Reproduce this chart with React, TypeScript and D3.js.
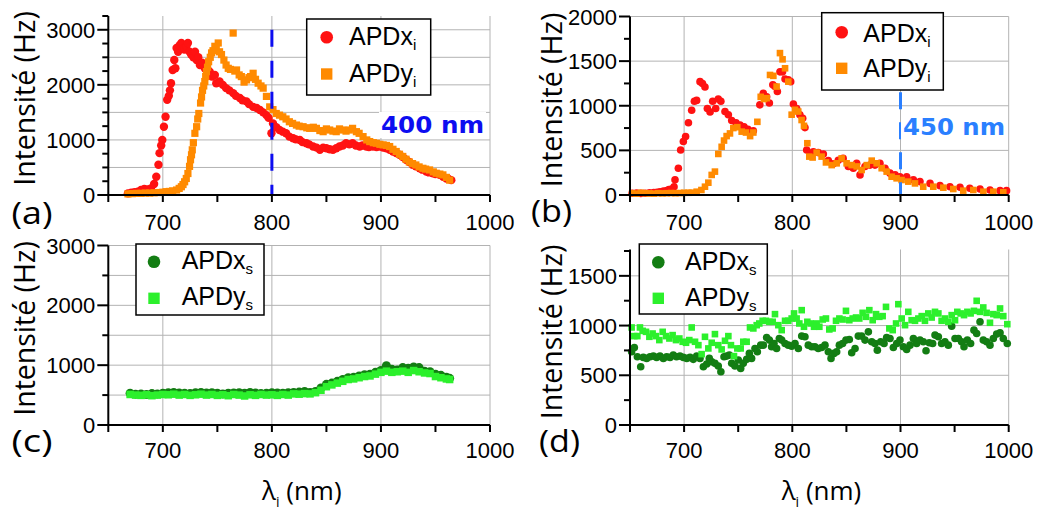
import React from "react";
import * as d3 from "d3";

type Pt = [number, number];

// ---------- tick labels ----------
const xTickValues = [650, 700, 750, 800, 850, 900, 950, 1000];
const xTickLabels = [700, 800, 900, 1000];
const xGridValues = [700, 800, 900, 1000];

// ---------- data: panel (a) ----------
const aXi: Pt[] = [[668,30],[671,40],[674,50],[677,60],[680,90],[683,110],[686,100],[689,120],[692,200],[694,330],[696,550],[697,760],[698.5,900],[699.5,1000],[701,1240],[702.5,1420],[704,1730],[705.5,1800],[706.5,1900],[707.5,2030],[709,2270],[710.5,2450],[711.5,2300],[712.6,2670],[714,2600],[715.5,2720],[717,2760],[718.5,2650],[720,2640],[721.5,2700],[723,2760],[724.5,2600],[726,2550],[728,2500],[729.5,2600],[731,2450],[732.5,2500],[734,2360],[736,2400],[738.5,2300],[741,2280],[743,2240],[745,2150],[747.7,2180],[749,2030],[752,2060],[755,2000],[758,1940],[761,1900],[764.5,1850],[767,1800],[770.6,1760],[773,1720],[776.7,1700],[779,1650],[782.8,1600],[786,1580],[789,1545],[792,1500],[795,1450],[797,1400],[799.6,1120],[801,1300],[804,1230],[807,1180],[810,1150],[813,1120],[816,1060],[819.5,1030],[822,1010],[825.6,1000],[828,960],[831.7,940],[834,920],[837.8,880],[841,860],[844,820],[847,860],[850,850],[853,830],[856,820],[859,850],[862,880],[865,900],[868,940],[871,920],[874,940],[877,900],[880.5,880],[883,900],[886.6,880],[889,870],[892.7,880],[896,870],[898.8,880],[902,860],[905,850],[908,820],[911,790],[914,760],[917,730],[920,690],[923,640],[926,600],[929,550],[932,520],[935.5,485],[938,460],[941.6,425],[944,410],[947.7,395],[950,380],[953.8,365],[957,330],[960,300],[962,290],[964.5,270]];
const aYi: Pt[] = [[668,20],[672,25],[676,30],[680,30],[684,35],[688,35],[692,40],[696,45],[700,50],[703,60],[706,65],[709,75],[712.6,90],[715,120],[717,150],[718.5,190],[720,240],[721.5,300],[723,390],[724.5,520],[725.4,640],[726.3,730],[727,820],[728,950],[729.4,1120],[731,1240],[732,1380],[733,1480],[734.6,1670],[735.5,1780],[736.4,1900],[737.5,1980],[738.5,2060],[739.3,2150],[740,2240],[741,2320],[742,2420],[743.5,2500],[744.7,2580],[746,2620],[747.7,2700],[749,2680],[750.8,2760],[752,2600],[753.8,2550],[756,2450],[758,2360],[760,2300],[762,2280],[764.5,2940],[766,2250],[767.6,2270],[770,2180],[772,2150],[774.5,2050],[776.7,2090],[779,2130],[780.5,2150],[782.8,2210],[785,2100],[787.4,2030],[790,1980],[792,1940],[795,1790],[798,1600],[801,1550],[804,1480],[807,1450],[810,1420],[813,1380],[816,1330],[819,1300],[822.5,1270],[825,1250],[828.6,1240],[832,1220],[834.7,1210],[838,1230],[840.8,1210],[844,1170],[847,1150],[850,1200],[853,1180],[856,1160],[859,1150],[862,1200],[865,1180],[868,1160],[871,1180],[874,1210],[877.5,1150],[880,1120],[883.6,1060],[887,1000],[889.7,970],[893,950],[895.8,940],[899,920],[902,910],[905,900],[908,880],[911,830],[914,790],[917,740],[920,700],[923,650],[926,600],[929,570],[932,545],[935,510],[938.5,485],[941,470],[944.6,455],[948,420],[950.7,395],[954,380],[956.8,365],[960,320],[963,270]];

// ---------- data: panel (b) ----------
const bXi: Pt[] = [[652,20],[656,22],[660,18],[664,20],[668,25],[672,28],[675,30],[677.7,37],[681,45],[684,50],[686,60],[688.5,67],[690.7,93],[691.6,170],[694.7,300],[696.8,505],[699.3,600],[701.4,655],[704,810],[707,950],[709.5,1050],[711.6,1060],[714.7,1270],[717,1250],[719.3,1210],[721.5,970],[724,930],[726.4,1050],[729.2,970],[731.6,1075],[734,1050],[737.8,935],[740.9,900],[744,835],[748,810],[751.7,785],[755.4,765],[759,735],[764,720],[770,1010],[773.2,1140],[776.3,1100],[778.8,1030],[782,1235],[784,1215],[786.2,1160],[788.6,1380],[791,1380],[793.3,1300],[796.3,1290],[798.5,1270],[801,1020],[804,970],[807,900],[809.6,860],[811.7,755],[813.3,505],[816.4,467],[819.5,485],[824,475],[828.7,460],[833.3,385],[837.9,350],[842.5,390],[847,410],[851.8,320],[856.4,300],[859.5,355],[862.6,225],[867.2,320],[871.8,335],[876.4,335],[881,355],[885.7,300],[890.3,245],[895,225],[899.5,205],[905.7,205],[911.9,170],[918,150],[927.3,130],[936.5,105],[945.7,93],[955,86],[964,75],[973.5,67],[982.7,56],[992,49],[998,49]];
const bYi: Pt[] = [[652,20],[656,15],[660,25],[664,20],[668,18],[672,15],[676,20],[680,18],[684,20],[688,22],[692,20],[696,22],[700,25],[704,25],[707,26],[711.6,37],[716,56],[719.3,93],[722.4,138],[725.5,225],[728.5,262],[731.6,460],[734.7,540],[736.9,610],[739.3,660],[742.4,690],[745.5,750],[749.2,760],[753.2,710],[757.2,700],[761,660],[764,700],[767.7,820],[770.8,1100],[773.8,1075],[776.3,1085],[779.4,1345],[782.5,1335],[785.5,1215],[788.6,1590],[791,1520],[793.3,1420],[796.3,1270],[799.4,900],[802.5,955],[805.5,935],[808.6,840],[810.8,775],[813.9,580],[815.7,430],[818.8,420],[822.5,475],[827.1,430],[831.1,365],[836.4,335],[841,355],[845.6,410],[850.2,355],[854.9,335],[859.5,320],[864.1,280],[868.8,335],[873.4,385],[878,355],[882.6,300],[887.2,262],[891.8,205],[896.4,187],[901,168],[907.2,150],[913.4,130],[921,93],[930.3,93],[939.6,82],[948.8,67],[958,49],[967.3,56],[976.6,37],[985.8,37],[995,30]];

// ---------- data: panel (c) ----------
const cXs: Pt[] = [[670,530],[675,515],[680,520],[685,510],[690,525],[695,520],[700,530],[705,540],[710,545],[715,535],[720,530],[725,525],[730,540],[735,545],[740,535],[745,540],[750,530],[755,520],[760,530],[765,535],[770,540],[775,530],[780,545],[785,535],[790,525],[795,530],[800,540],[805,535],[810,530],[815,540],[820,545],[825,550],[830,560],[835,545],[840,560],[845,620],[850,680],[855,700],[860,730],[865,760],[870,790],[875,800],[880,820],[885,840],[890,850],[895,880],[900,910],[905,990],[910,930],[915,920],[920,960],[925,950],[930,970],[935,960],[940,900],[945,890],[950,850],[955,830],[960,800],[963,780]];
const cYs: Pt[] = [[670,510],[675,500],[680,495],[685,505],[690,490],[695,500],[700,510],[705,505],[710,515],[715,500],[720,510],[725,495],[730,505],[735,515],[740,500],[745,510],[750,495],[755,505],[760,490],[765,510],[770,500],[775,485],[780,505],[785,495],[790,510],[795,500],[800,505],[805,495],[810,510],[815,500],[820,520],[825,515],[830,525],[835,520],[840,540],[845,580],[850,640],[855,670],[860,700],[865,730],[870,760],[875,770],[880,790],[885,810],[890,820],[895,850],[900,880],[905,900],[910,880],[915,890],[920,900],[925,880],[930,910],[935,890],[940,870],[945,860],[950,810],[955,790],[960,770],[963,760]];

// ---------- data: panel (d) ----------
const dXs: Pt[] = [[651.5,737],[654,780],[656.8,686],[659.9,586],[662.3,680],[665.4,670],[668.5,686],[671.6,693],[674.6,680],[677.7,693],[680.8,670],[683.9,686],[687,680],[690,703],[693,686],[696.2,693],[699.3,680],[702.4,670],[705.5,680],[708.5,660],[711.6,693],[714.7,670],[717.8,586],[720.9,613],[723.3,670],[725.5,636],[728.5,620],[731.6,593],[734,536],[736.9,686],[739.3,693],[741.8,703],[744,620],[747,593],[750.1,653],[752.3,569],[754.7,620],[757.8,660],[760.3,720],[762.4,670],[765.5,770],[767.7,737],[770.8,803],[773.2,803],[776.3,880],[778.8,854],[780.9,787],[783.1,820],[785.5,770],[788,870],[790.2,854],[793.3,820],[796.3,803],[799.4,793],[802.5,820],[805.6,770],[808.7,894],[811.7,887],[814.8,803],[817.9,787],[820.9,787],[824,770],[827.1,780],[830.2,803],[833.3,737],[835.8,670],[838.5,720],[841,737],[843.5,803],[846.5,820],[849.6,854],[852.7,860],[854.9,726],[858,770],[861,894],[864.1,894],[867.2,854],[870.3,937],[873.4,837],[876.4,820],[878.6,753],[881.7,837],[884.8,820],[887.2,880],[890.3,870],[893.4,780],[896.5,820],[899.5,854],[902.6,787],[905.7,760],[908.8,803],[911.9,870],[914.9,820],[918,854],[921.1,837],[923.6,746],[926.6,827],[929.7,820],[931.9,904],[935,887],[938,820],[941.1,837],[944.2,803],[947.3,994],[950.4,870],[953.5,870],[956.5,837],[958.7,787],[961.8,854],[964.8,820],[967.9,954],[970.4,920],[973.5,1038],[976.5,854],[979.6,837],[982.7,803],[985.8,870],[988.9,914],[992,927],[995,870],[998.7,820]];
const dYs: Pt[] = [[651.5,981],[654,894],[656.8,894],[659.2,981],[661.7,947],[664.8,937],[667.9,887],[670.9,920],[674,894],[677.1,854],[680.2,937],[683.3,894],[686.4,870],[689.4,904],[692.5,854],[695.6,870],[698.7,837],[701.8,827],[704.8,854],[707,981],[710.1,837],[713.2,803],[716.2,713],[719.3,887],[722.4,770],[725.5,827],[728.5,914],[731.6,803],[734.7,760],[737.8,847],[740.9,894],[743.3,803],[746.1,693],[749.2,770],[752.3,770],[754.7,837],[757.8,837],[760.9,981],[764,971],[767.1,1004],[769.5,1021],[772.6,1048],[775.7,1048],[778.8,1038],[781.9,1038],[784,1115],[787.1,1004],[790.2,954],[793.3,1048],[796.3,1048],[799.4,1071],[801.6,1122],[804,1071],[806.5,1021],[808.7,1155],[810.8,988],[813.9,1038],[817,1021],[820.1,988],[822.5,1021],[825,988],[828.1,1061],[831.1,1071],[834.2,961],[837.3,971],[840.4,1048],[843.5,1071],[846.5,1061],[849.6,1148],[852.7,1054],[855.8,1071],[858.9,1081],[861.9,1071],[865,1128],[868.1,1088],[871.2,1155],[874.3,1054],[877.4,1115],[880.4,1088],[883.5,1095],[886.6,1188],[889.7,971],[892.8,954],[895.9,1021],[898,1215],[901.1,1071],[904.2,1004],[907.2,1138],[910.3,1054],[913.4,1048],[916.5,1071],[919.6,1095],[922.6,1048],[925.7,1122],[928.8,1081],[931.9,1138],[935,1122],[938,1048],[941.1,1071],[944.2,1038],[947.3,1105],[950.4,1054],[952.5,1138],[955.6,1122],[958.7,1105],[961.8,1138],[964.8,1122],[967.9,1148],[970.4,1249],[973.5,1138],[976.5,1182],[979.6,1128],[982.7,1028],[985.8,1115],[988.9,1105],[992,1172],[995,1095],[998.7,1014]];

const RED = "#ff1212";
const ORANGE = "#ff8a00";
const DKGREEN = "#137d13";
const LTGREEN = "#2cf02c";

const TICK_FONT = "'Liberation Sans', Arial, sans-serif";
const TITLE_FONT = "'Open Sans', 'Noto Sans', sans-serif";

interface Series { data: Pt[]; color: string; shape: "circle" | "square"; size: number; }
interface PanelCfg {
  key: string;
  px0: number; px1: number; pyBottom: number; pyTop: number; yMax: number;
  yStep: number; yMajor: number; yGrid: number[];
  series: Series[];
  legend: { x0: number; y0: number; x1: number; y1: number; markX: number; markY: number[]; textX: number; textY: number[]; names: string[]; sub: string; };
  letter: string; letterX: number; letterY: number;
  yTitleX: number; yTitleY: number;
  xLabelY: number;
  xTitle?: { x: number; y: number };
  marker?: { at: number; color: string; dash: string; fromV: number; text: string; tx: number; ty: number; tw: number };
}

function Panel({ c }: { c: PanelCfg }) {
  const x = d3.scaleLinear().domain([650, 1000]).range([c.px0, c.px1]);
  const y = d3.scaleLinear().domain([0, c.yMax]).range([c.pyBottom, c.pyTop]);
  const yTicks = d3.range(0, c.yMax + 1, c.yStep);
  return (
    <g>
      {c.yGrid.map((v) => (
        <line key={"gy" + v} x1={c.px0} x2={c.px1} y1={y(v)} y2={y(v)} stroke="#b3b3b3" strokeWidth={1} />
      ))}
      {xGridValues.map((v) => (
        <line key={"gx" + v} x1={x(v)} x2={x(v)} y1={c.pyTop} y2={c.pyBottom} stroke="#b3b3b3" strokeWidth={1} />
      ))}
      {c.series.map((s, si) =>
        s.data.map((d, i) =>
          s.shape === "circle" ? (
            <circle key={si + "-" + i} cx={x(d[0])} cy={y(d[1])} r={s.size} fill={s.color} />
          ) : (
            <rect key={si + "-" + i} x={x(d[0]) - s.size / 2} y={y(d[1]) - s.size / 2} width={s.size} height={s.size} fill={s.color} />
          )
        )
      )}
      {c.marker && (
        <g>
          <line x1={x(c.marker.at)} x2={x(c.marker.at)} y1={y(c.marker.fromV)} y2={y(0)} stroke={c.marker.color} strokeWidth={3} strokeDasharray={c.marker.dash} />
          <rect x={c.marker.tx - 2} y={c.marker.ty - 21} width={c.marker.tw + 4} height={26} fill="white" />
          <text x={c.marker.tx} y={c.marker.ty} fill={c.marker.color} fontFamily="'DejaVu Sans', Verdana, sans-serif" fontWeight="bold" fontSize={23} textLength={c.marker.tw} lengthAdjust="spacingAndGlyphs">{c.marker.text}</text>
        </g>
      )}
      <line x1={c.px0} x2={c.px0} y1={c.pyTop} y2={c.pyBottom + 1} stroke="black" strokeWidth={2} />
      <line x1={c.px0 - 1} x2={c.px1} y1={c.pyBottom} y2={c.pyBottom} stroke="black" strokeWidth={2} />
      {yTicks.map((v) => {
        const major = v % c.yMajor === 0;
        return (
          <g key={"yt" + v}>
            <line x1={c.px0 - (major ? 11 : 6)} x2={c.px0} y1={y(v)} y2={y(v)} stroke="black" strokeWidth={2} />
            {major && (
              <text x={c.px0 - 13} y={y(v) + 8} textAnchor="end" fontFamily={TICK_FONT} fontSize={22} fill="black">{v}</text>
            )}
          </g>
        );
      })}
      {xTickValues.map((v) => (
        <line key={"xt" + v} x1={x(v)} x2={x(v)} y1={c.pyBottom} y2={c.pyBottom + 7} stroke="black" strokeWidth={2} />
      ))}
      {xTickLabels.map((v) => (
        <text key={"xl" + v} x={x(v)} y={c.xLabelY} textAnchor="middle" fontFamily={TICK_FONT} fontSize={22} fill="black">{v}</text>
      ))}
      <text transform={`translate(${c.yTitleX},${c.yTitleY}) rotate(-90)`} textAnchor="middle" fontFamily={TITLE_FONT} fontSize={28.5} fill="black">Intensité (Hz)</text>
      {c.xTitle && (
        <text x={c.xTitle.x} y={c.xTitle.y} fontFamily={TITLE_FONT} fontSize={26} fill="black">
          λ<tspan dy={7} fontSize={14}>i</tspan><tspan dy={-7}> (nm)</tspan>
        </text>
      )}
      <text x={c.letterX} y={c.letterY} fontFamily={TITLE_FONT} fontSize={31} textLength={41} lengthAdjust="spacingAndGlyphs" fill="black">{c.letter}</text>
      <rect x={c.legend.x0} y={c.legend.y0} width={c.legend.x1 - c.legend.x0} height={c.legend.y1 - c.legend.y0} fill="white" stroke="black" strokeWidth={1.5} />
      {c.series.map((s, i) => (
        <g key={"lg" + i}>
          {s.shape === "circle" ? (
            <circle cx={c.legend.markX} cy={c.legend.markY[i]} r={6.3} fill={s.color} />
          ) : (
            <rect x={c.legend.markX - 5.7} y={c.legend.markY[i] - 5.7} width={11.4} height={11.4} fill={s.color} />
          )}
          <text x={c.legend.textX} y={c.legend.textY[i]} fontFamily={TICK_FONT} fontSize={25} fill="black">
            {c.legend.names[i]}<tspan dy={5} fontSize={15}>{c.legend.sub}</tspan>
          </text>
        </g>
      ))}
    </g>
  );
}

const panels: PanelCfg[] = [
  {
    key: "a", px0: 108.3, px1: 490, pyBottom: 195, pyTop: 16, yMax: 3250, yStep: 250, yMajor: 1000,
    yGrid: [500, 1000, 1500, 2000, 2500, 3000],
    series: [
      { data: aXi, color: RED, shape: "circle", size: 4.2 },
      { data: aYi, color: ORANGE, shape: "square", size: 7.2 },
    ],
    legend: { x0: 306.7, y0: 19, x1: 430.7, y1: 95, markX: 326.7, markY: [37.3, 74], textX: 349, textY: [45, 81.7], names: ["APDx", "APDy"], sub: "i" },
    letter: "(a)", letterX: 11.5, letterY: 224, yTitleX: 35, yTitleY: 98.5, xLabelY: 230,
    marker: { at: 800, color: "#0d0df0", dash: "17 14", fromV: 3000, text: "400 nm", tx: 381, ty: 133, tw: 103 },
  },
  {
    key: "b", px0: 630, px1: 1008.7, pyBottom: 195, pyTop: 16.5, yMax: 2000, yStep: 250, yMajor: 500,
    yGrid: [500, 1000, 1500, 2000],
    series: [
      { data: bXi, color: RED, shape: "circle", size: 3.8 },
      { data: bYi, color: ORANGE, shape: "square", size: 6.6 },
    ],
    legend: { x0: 821.7, y0: 12.7, x1: 943.3, y1: 90, markX: 841.7, markY: [32.3, 68.3], textX: 863.3, textY: [41.7, 76.7], names: ["APDx", "APDy"], sub: "i" },
    letter: "(b)", letterX: 531, letterY: 222, yTitleX: 562, yTitleY: 100, xLabelY: 230,
    marker: { at: 900, color: "#2a7fff", dash: "17 13", fromV: 1150, text: "450 nm", tx: 903, ty: 135, tw: 102 },
  },
  {
    key: "c", px0: 108.3, px1: 490, pyBottom: 425, pyTop: 245.5, yMax: 3000, yStep: 500, yMajor: 1000,
    yGrid: [500, 1000, 1500, 2000, 2500, 3000],
    series: [
      { data: cXs, color: DKGREEN, shape: "circle", size: 4.5 },
      { data: cYs, color: LTGREEN, shape: "square", size: 7.5 },
    ],
    legend: { x0: 136, y0: 244, x1: 264, y1: 315, markX: 154, markY: [261.7, 298.3], textX: 181.7, textY: [269.3, 305], names: ["APDx", "APDy"], sub: "s" },
    letter: "(c)", letterX: 11.5, letterY: 452, yTitleX: 35, yTitleY: 328.5, xLabelY: 458,
    xTitle: { x: 262, y: 500 },
  },
  {
    key: "d", px0: 630, px1: 1008.7, pyBottom: 425, pyTop: 249.5, yMax: 1765, yStep: 250, yMajor: 500,
    yGrid: [500, 1000, 1500],
    series: [
      { data: dXs, color: DKGREEN, shape: "circle", size: 3.8 },
      { data: dYs, color: LTGREEN, shape: "square", size: 6.6 },
    ],
    legend: { x0: 639.3, y0: 244, x1: 767.3, y1: 314, markX: 658.3, markY: [262.3, 298.3], textX: 685, textY: [270, 306], names: ["APDx", "APDy"], sub: "s" },
    letter: "(d)", letterX: 539, letterY: 452, yTitleX: 562, yTitleY: 332, xLabelY: 458,
    xTitle: { x: 781.7, y: 500 },
  },
];

export default function App() {
  return (
    <svg width={1047} height={514} style={{ position: "absolute", left: 0, top: 0, background: "white" }}>
      <rect width={1047} height={514} fill="white" />
      {panels.map((p) => (
        <Panel key={p.key} c={p} />
      ))}
    </svg>
  );
}
